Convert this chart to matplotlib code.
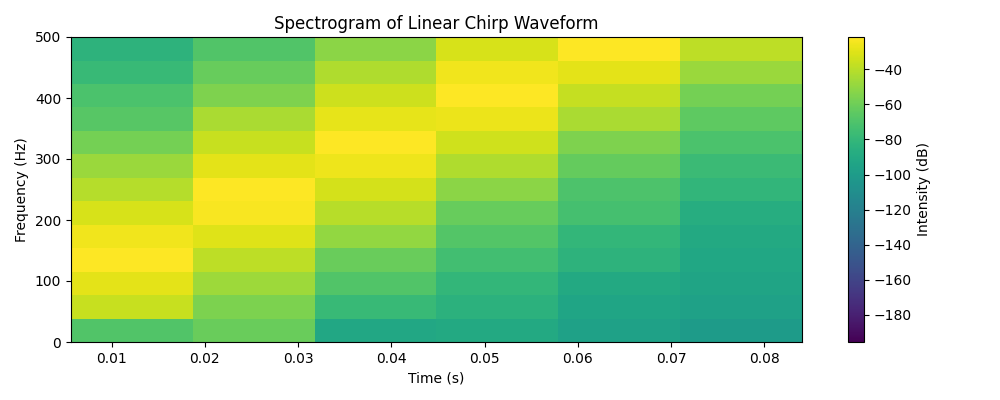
import numpy as np
import matplotlib
matplotlib.use("Agg")
import matplotlib.pyplot as plt

# time bin centres (s) and frequency range (Hz)
times = [0.0122, 0.0253, 0.0383, 0.0514, 0.0645, 0.0775]
freq_min, freq_max = 0, 500

# intensity in dB, one list per time bin, rows from 0 Hz upwards
col1 = [-69, -36, -29, -22, -25, -32, -41, -48, -58, -67, -71, -78, -83]
col2 = [-61, -56, -47, -39, -30, -23, -22, -29, -36, -44, -55, -62, -69]
col3 = [-91, -78, -69, -61, -50, -40, -33, -26, -22, -28, -35, -42, -52]
col4 = [-90, -84, -80, -74, -68, -62, -52, -42, -34, -27, -22, -25, -32]
col5 = [-96, -93, -90, -83, -80, -73, -70, -63, -55, -44, -37, -29, -22]
col6 = [-100, -96, -94, -92, -90, -87, -81, -77, -71, -65, -58, -48, -39]

db = np.array([col1, col2, col3, col4, col5, col6]).T

fig = plt.figure(figsize=(10, 4), dpi=100)
ax = fig.add_axes([0.071, 0.145, 0.731, 0.7625])
cax = fig.add_axes([0.848, 0.145, 0.016, 0.7625])

pad = (times[1] - times[0]) / 2
extent = (times[0] - pad, times[-1] + pad, freq_min, freq_max)
im = ax.imshow(db, origin="lower", aspect="auto", extent=extent,
               cmap="viridis", vmin=-195.4, vmax=-21.6,
               interpolation="nearest")

ax.set_title("Spectrogram of Linear Chirp Waveform")
ax.set_xlabel("Time (s)")
ax.set_ylabel("Frequency (Hz)")
ax.set_xticks([0.01, 0.02, 0.03, 0.04, 0.05, 0.06, 0.07, 0.08])
ax.set_yticks([0, 100, 200, 300, 400, 500])

cb = fig.colorbar(im, cax=cax)
cb.set_label("Intensity (dB)")
cb.set_ticks([-180, -160, -140, -120, -100, -80, -60, -40])

fig.savefig("out.png", dpi=100)
